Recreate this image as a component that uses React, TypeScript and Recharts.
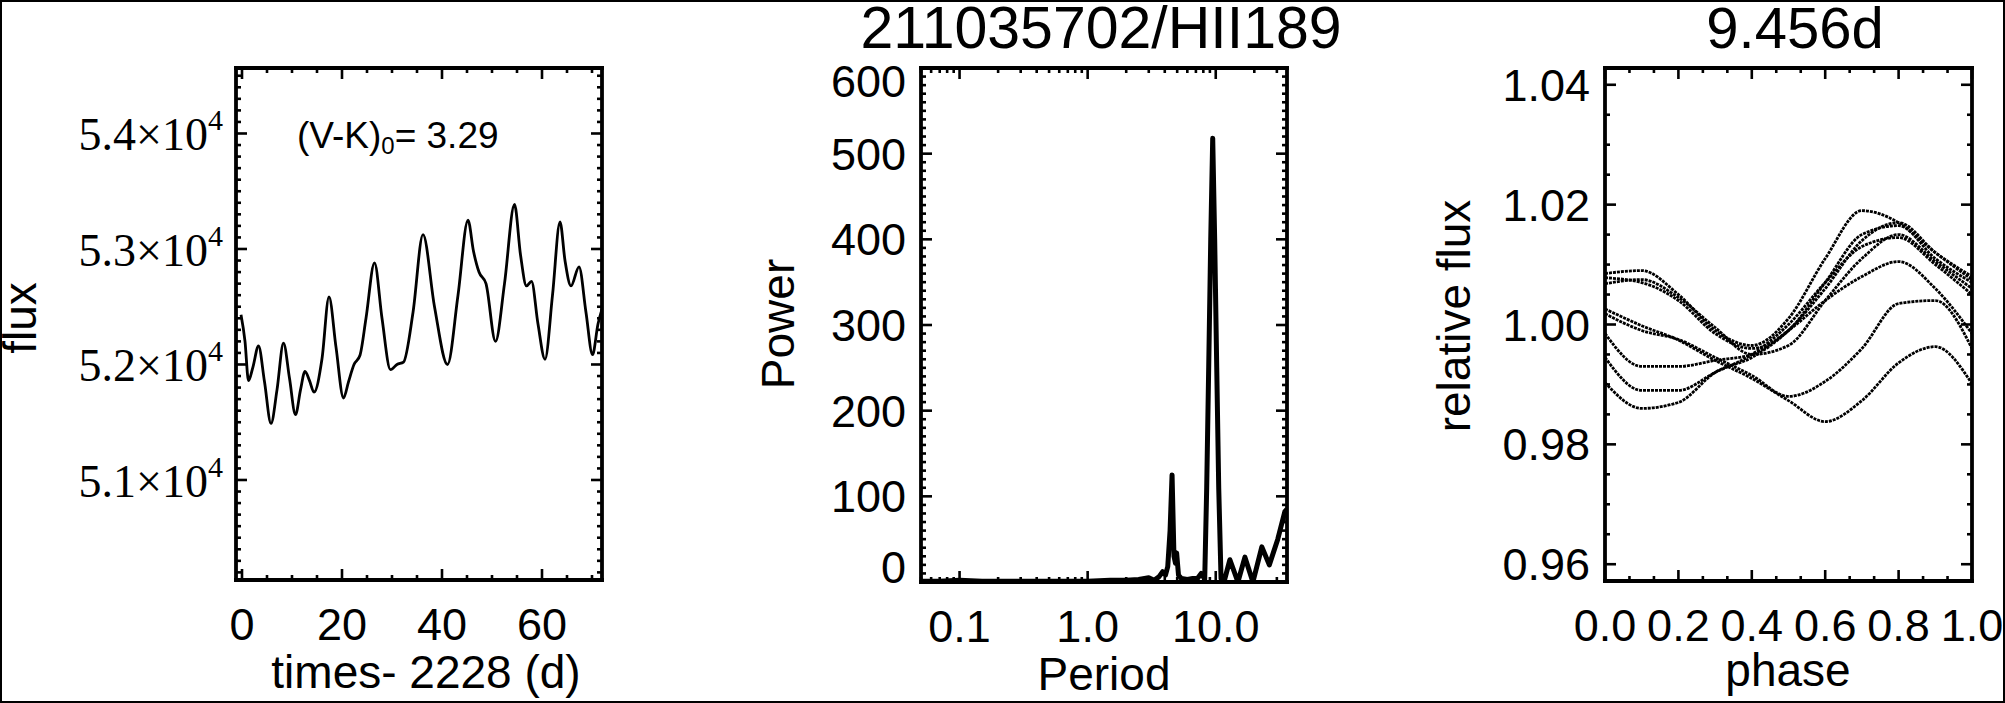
import React from 'react';
import { LineChart, Line, XAxis, YAxis } from 'recharts';

const SANS = '"Liberation Sans", Arial, Helvetica, sans-serif';
const SERIF = '"Liberation Serif", "Times New Roman", serif';

// ---- panel 1: light curve (days since 2228, flux) ----
const lcTime = [
  -0.2, 0.6, 1.3, 2.2, 3.3, 4.5, 5.8, 7.0, 8.3, 9.5, 10.7, 11.7, 12.6, 13.5, 14.4, 16.0, 17.4, 18.8,
  20.3, 21.3, 22.4, 23.6, 24.8, 26.5, 28.0, 29.7, 31.0, 32.3, 34.2, 36.2, 38.5, 41.1, 43.2, 45.2,
  46.3, 47.4, 48.8, 50.7, 52.5, 54.5, 55.7, 56.9, 57.9, 59.2, 60.6, 62.1, 63.6, 64.6, 65.8, 67.4,
  68.8, 70.1, 71.2, 72.0,
];
const lcFlux = [
  52430, 52200, 51860, 51980, 52160, 51850, 51490, 51780, 52185, 51880, 51565, 51780, 51940, 51860,
  51760, 52050, 52585, 52150, 51710, 51850, 52000, 52080, 52400, 52880, 52400, 51955, 52000, 52020,
  52450, 53125, 52500, 52000, 52600, 53250, 52980, 52800, 52700, 52200, 52700, 53385, 52950, 52680,
  52720, 52350, 52045, 52600, 53235, 52900, 52680, 52845, 52450, 52085, 52350, 52480,
];

// ---- panel 2: periodogram (period in days, power) ----
const pgPeriod = [
  0.05, 0.07, 0.1, 0.15, 0.2, 0.3, 0.5, 0.7, 1.0, 1.5, 2.0, 2.5, 3.0, 3.3, 3.6, 3.85, 4.05, 4.22,
  4.4, 4.56, 4.72, 4.85, 4.95, 5.12, 5.4, 6.0, 6.6, 7.2, 7.7, 8.0, 8.2, 8.5, 8.81, 9.14, 9.47,
  9.81, 10.18, 10.55, 11.0, 11.6, 12.9, 14.9, 16.9, 19.5, 22.9, 26.2, 30.5, 34.6, 36.0,
];
const pgPower = [
  1, 1, 2, 1, 1, 1, 1, 1, 1, 2, 2, 3, 5, 2, 6, 12, 8, 18, 60, 125, 30, 22, 34, 8, 4, 3, 4, 4, 10,
  6, 3, 110, 250, 400, 518, 400, 250, 110, 4, 0, 26, 0, 29, 0, 41, 20, 50, 82, 85,
];

// ---- panel 3: phase-folded cycles (relative flux) ----
const phaseGrid = [0, 0.1, 0.2, 0.3, 0.4, 0.5, 0.6, 0.7, 0.8, 0.9, 1.0];
const cycle1 = [1.0085, 1.009, 1.005, 0.999, 0.9965, 1.001, 1.011, 1.019, 1.017, 1.012, 1.008];
const cycle2 = [1.0078, 1.007, 1.004, 0.9985, 0.996, 0.999, 1.007, 1.015, 1.0165, 1.011, 1.007];
const cycle3 = [1.0068, 1.0075, 1.0045, 0.9995, 0.995, 0.9965, 1.004, 1.011, 1.015, 1.0105, 1.006];
const cycle4 = [1.0026, 0.9998, 0.9974, 0.994, 0.991, 0.9873, 0.9838, 0.9873, 0.9936, 0.9963, 0.9901];
const cycle5 = [1.0018, 0.999, 0.9975, 0.9945, 0.9915, 0.988, 0.9905, 0.996, 1.0035, 1.004, 0.996];
const cycle6 = [0.9985, 0.993, 0.993, 0.994, 0.995, 0.999, 1.004, 1.008, 1.0105, 1.006, 0.9985];
const cycle7 = [0.9945, 0.989, 0.989, 0.992, 0.995, 1.0, 1.007, 1.013, 1.0145, 1.01, 1.005];
const cycle8 = [0.9903, 0.986, 0.987, 0.992, 0.9945, 0.999, 1.006, 1.014, 1.017, 1.012, 1.0075];
const cycles = [cycle1, cycle2, cycle3, cycle4, cycle5, cycle6, cycle7, cycle8];

// ---- ticks ----
const lcMajorX = [0, 20, 40, 60];
const lcMajorY = [51000, 52000, 53000, 54000];
const lcLabelY = ['5.1', '5.2', '5.3', '5.4'];
const pgMajorX = [0.1, 1, 10];
const pgLabelX = ['0.1', '1.0', '10.0'];
const pgMinorX = [0.05, 0.06, 0.07, 0.08, 0.09, 0.2, 0.3, 0.4, 0.5, 0.6, 0.7, 0.8, 0.9, 2, 3, 4, 5, 6, 7, 8, 9, 20, 30];
const pgMajorY = [0, 100, 200, 300, 400, 500, 600];
const phMajorX = [0, 0.2, 0.4, 0.6, 0.8, 1.0];
const phLabelX = ['0.0', '0.2', '0.4', '0.6', '0.8', '1.0'];
const phMajorY = [0.96, 0.98, 1.0, 1.02, 1.04];
const phLabelY = ['0.96', '0.98', '1.00', '1.02', '1.04'];

function steps(from: number, to: number, step: number) {
  const out: number[] = [];
  for (let v = from; v <= to + step / 1000; v += step) out.push(Number(v.toFixed(6)));
  return out;
}

const lcTicksX = steps(0, 70, 5);
const lcTicksY = steps(50200, 54500, 100);
const pgTicksX = [...pgMinorX, ...pgMajorX].sort((a, b) => a - b);
const pgTicksY = steps(0, 600, 10);
const phTicksX = steps(0, 1, 0.2 / 3);
const phTicksY = steps(0.96, 1.04, 0.005);

const MAJOR = 11;
const MINOR = 5;
const AXIS = { stroke: '#000', strokeWidth: 3.8, strokeLinecap: 'square' as const };
const LABEL_PX = 45;
const TITLE_PX = 46;

type Side = 'bottom' | 'top' | 'left' | 'right';
type LabelFn = (x: number, y: number, i: number) => React.ReactNode;

const findIdx = (arr: number[], v: number) => arr.findIndex((m) => Math.abs(m - v) < 1e-6);

// inward tick marks on every side, labels only for the major ticks
function tickRenderer(side: Side, majors: number[], label?: LabelFn) {
  return (props: any) => {
    const { x, y, payload } = props;
    const idx = findIdx(majors, payload.value);
    const len = idx >= 0 ? MAJOR : MINOR;
    let line;
    if (side === 'bottom') line = <line x1={x} y1={y} x2={x} y2={y - len} />;
    else if (side === 'top') line = <line x1={x} y1={y} x2={x} y2={y + len} />;
    else if (side === 'left') line = <line x1={x} y1={y} x2={x + len} y2={y} />;
    else line = <line x1={x} y1={y} x2={x - len} y2={y} />;
    return (
      <g>
        <g stroke="#000" strokeWidth={2.6}>{line}</g>
        {idx >= 0 && label ? label(x, y, idx) : null}
      </g>
    );
  };
}

const sansBottom = (texts: string[]): LabelFn => (x, y, i) => (
  <text x={x} y={y + 60} textAnchor="middle" fontFamily={SANS} fontSize={LABEL_PX} fill="#000">
    {texts[i]}
  </text>
);

const sansLeft = (texts: string[], shift: (i: number) => number = () => 0): LabelFn => (x, y, i) => (
  <text x={x - 15} y={y + 16 + shift(i)} textAnchor="end" fontFamily={SANS} fontSize={LABEL_PX} fill="#000">
    {texts[i]}
  </text>
);

const serifLeft: LabelFn = (x, y, i) => (
  <text x={x - 13} y={y + 17} textAnchor="end" fontFamily={SERIF} fontSize={46} fill="#000">
    {lcLabelY[i]}×10
    <tspan dy={-20} fontSize={30}>4</tspan>
  </text>
);

function axes(p: {
  xDomain: [number, number];
  yDomain: [number, number];
  xTicks: number[];
  yTicks: number[];
  xMajors: number[];
  yMajors: number[];
  xLabel: LabelFn;
  yLabel: LabelFn;
  yWidth: number;
  xKey: string;
  scale?: 'log' | 'linear';
}) {
  const common = { interval: 0 as const, tickSize: 0, tickMargin: 0, axisLine: AXIS, tickLine: false, allowDataOverflow: true };
  const sc = p.scale ?? 'linear';
  return [
    <XAxis key="xb" xAxisId="b" dataKey={p.xKey} type="number" scale={sc} domain={p.xDomain} ticks={p.xTicks} height={1}
      {...common} tick={tickRenderer('bottom', p.xMajors, p.xLabel)} />,
    <XAxis key="xt" xAxisId="t" dataKey={p.xKey} type="number" scale={sc} orientation="top" domain={p.xDomain} ticks={p.xTicks}
      height={1} {...common} tick={tickRenderer('top', p.xMajors)} />,
    <YAxis key="yl" yAxisId="l" type="number" domain={p.yDomain} ticks={p.yTicks} width={p.yWidth}
      {...common} tick={tickRenderer('left', p.yMajors, p.yLabel)} />,
    <YAxis key="yr" yAxisId="r" orientation="right" type="number" domain={p.yDomain} ticks={p.yTicks} width={1}
      {...common} tick={tickRenderer('right', p.yMajors)} />,
  ];
}

function Panel1() {
  const data = lcTime.map((t, i) => ({ t, flux: lcFlux[i] }));
  return (
    <LineChart width={640} height={703} data={data} margin={{ top: 67, right: 37, bottom: 122, left: 0 }}>
      {axes({
        xDomain: [-1.2, 72],
        yDomain: [50134, 54567],
        xTicks: lcTicksX,
        yTicks: lcTicksY,
        xMajors: lcMajorX,
        yMajors: lcMajorY,
        xLabel: sansBottom(lcMajorX.map(String)),
        yLabel: serifLeft,
        yWidth: 236,
        xKey: 't',
      })}
      <Line xAxisId="b" yAxisId="l" type="monotone" dataKey="flux" stroke="#000" strokeWidth={2.8} dot={false} isAnimationActive={false} />
    </LineChart>
  );
}

function Panel2() {
  const data = pgPeriod.map((p, i) => ({ p, power: pgPower[i] }));
  return (
    <LineChart width={640} height={703} data={data} margin={{ top: 67, right: 32, bottom: 120, left: 0 }}>
      {axes({
        xDomain: [0.05, 36],
        yDomain: [0, 600],
        xTicks: pgTicksX,
        yTicks: pgTicksY,
        xMajors: pgMajorX,
        yMajors: pgMajorY,
        xLabel: sansBottom(pgLabelX),
        yLabel: sansLeft(pgMajorY.map(String), (i) => (i === 0 ? -15 : i === pgMajorY.length - 1 ? 13 : 0)),
        yWidth: 241,
        xKey: 'p',
        scale: 'log',
      })}
      <Line xAxisId="b" yAxisId="l" type="linear" dataKey="power" stroke="#000" strokeWidth={5} strokeLinejoin="round"
        dot={false} isAnimationActive={false} />
    </LineChart>
  );
}

function Panel3() {
  const data = phaseGrid.map((ph, i) => {
    const row: Record<string, number> = { ph };
    cycles.forEach((c, k) => (row[`c${k}`] = c[i]));
    return row;
  });
  return (
    <LineChart width={645} height={703} data={data} margin={{ top: 67, right: 32, bottom: 121, left: 0 }}>
      {axes({
        xDomain: [0, 1],
        yDomain: [0.9572, 1.0428],
        xTicks: phTicksX,
        yTicks: phTicksY,
        xMajors: phMajorX,
        yMajors: phMajorY,
        xLabel: sansBottom(phLabelX),
        yLabel: sansLeft(phLabelY),
        yWidth: 245,
        xKey: 'ph',
      })}
      {cycles.map((_, k) => (
        <Line key={k} xAxisId="b" yAxisId="l" type="monotone" dataKey={`c${k}`} stroke="#000" strokeWidth={2.8}
          strokeDasharray="3 1" dot={false} isAnimationActive={false} />
      ))}
    </LineChart>
  );
}

export default function App() {
  const t = { fontFamily: SANS, fill: '#000' };
  return (
    <div style={{ position: 'absolute', left: 0, top: 0, width: 2005, height: 703, background: '#fff', overflow: 'hidden' }}>
      <div style={{ position: 'absolute', left: 0, top: 0 }}><Panel1 /></div>
      <div style={{ position: 'absolute', left: 680, top: 0 }}><Panel2 /></div>
      <div style={{ position: 'absolute', left: 1360, top: 0 }}><Panel3 /></div>
      <svg width={2005} height={703} style={{ position: 'absolute', left: 0, top: 0, pointerEvents: 'none' }}>
        <text x={1101} y={48} textAnchor="middle" fontSize={59} {...t}>211035702/HII189</text>
        <text x={1795} y={48} textAnchor="middle" fontSize={58} {...t}>9.456d</text>
        <text x={297} y={148} fontSize={37} {...t}>
          (V-K)<tspan fontSize={24} dy={6}>0</tspan><tspan dy={-6}>= 3.29</tspan>
        </text>
        <text x={426} y={688} textAnchor="middle" fontSize={TITLE_PX} {...t}>times- 2228 (d)</text>
        <text x={1104} y={690} textAnchor="middle" fontSize={TITLE_PX} {...t}>Period</text>
        <text x={1788} y={686} textAnchor="middle" fontSize={TITLE_PX} {...t}>phase</text>
        <text transform="translate(36,318) rotate(-90)" textAnchor="middle" fontSize={TITLE_PX} {...t}>flux</text>
        <text transform="translate(794,324) rotate(-90)" textAnchor="middle" fontSize={TITLE_PX} {...t}>Power</text>
        <text transform="translate(1470,316) rotate(-90)" textAnchor="middle" fontSize={TITLE_PX} {...t}>relative flux</text>
      </svg>
      <div style={{ position: 'absolute', left: 0, top: 0, width: 2005, height: 703, border: '2px solid #000', boxSizing: 'border-box', pointerEvents: 'none' }} />
    </div>
  );
}
